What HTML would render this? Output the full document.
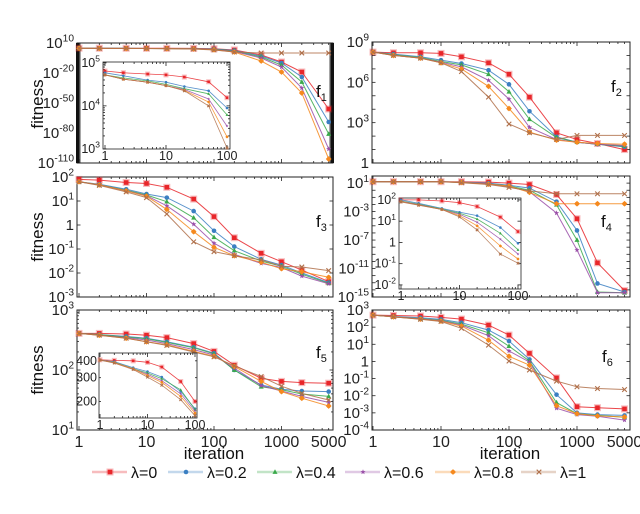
<!DOCTYPE html>
<html><head><meta charset="utf-8"><style>
body{margin:0;background:#fff;}
svg{display:block;font-family:"Liberation Sans",sans-serif;}
</style></head><body>
<svg id="chart" width="640" height="514" viewBox="0 0 640 514" xmlns="http://www.w3.org/2000/svg"></svg>
<script>
// iteration values (x)
const iterations = [1,2,5,10,20,50,100,200,500,1000,2000,5000];
const insetIterations = [1,2,5,10,20,50,100];
const lambdaLabels = ['λ=0','λ=0.2','λ=0.4','λ=0.6','λ=0.8','λ=1'];
// log10(fitness) series per panel, per lambda
const f1L0 = [4.81,4.77,4.74,4.72,4.67,4.56,4.19,3,-2,-9,-19,-56];
const f1L2 = [4.77,4.7,4.6,4.55,4.45,4.35,3.95,2.5,-3,-10,-24,-69];
const f1L4 = [4.72,4.65,4.58,4.5,4.4,4.28,3.79,2,-4,-12,-29,-81];
const f1L6 = [4.72,4.62,4.55,4.47,4.38,4.16,3.53,1.5,-5,-14,-35,-96];
const f1L8 = [4.72,4.62,4.55,4.47,4.36,4.09,3.28,1,-8,-19,-40,-106];
const f1L10 = [4.72,4.62,4.55,4.47,4.35,4.0,3.02,1,0,0,0,0];
const f2L0 = [8.25,8.2,8.2,8.15,7.9,7.45,6.6,4.9,2.25,1.75,1.45,1.0];
const f2L2 = [8.25,8.1,7.9,7.65,7.4,6.9,5.85,3.85,1.95,1.55,1.4,1.2];
const f2L4 = [8.25,8.05,7.85,7.55,7.3,6.6,5.3,3.25,1.9,1.55,1.4,1.25];
const f2L6 = [8.25,8.0,7.8,7.5,7.15,6.15,4.75,2.65,1.75,1.55,1.4,1.3];
const f2L8 = [8.25,8.0,7.8,7.45,7.0,5.7,4.05,2.3,1.7,1.55,1.45,1.4];
const f2L10 = [8.25,8.0,7.8,7.45,6.8,4.9,2.9,2.25,1.75,2.05,2.05,2.05];
const f3L0 = [1.9,1.87,1.77,1.73,1.57,1.08,0.35,-0.53,-1.18,-1.53,-1.88,-2.36];
const f3L2 = [1.8,1.7,1.49,1.29,1.14,0.58,-0.24,-0.9,-1.43,-1.67,-2.0,-2.4];
const f3L4 = [1.8,1.68,1.45,1.25,0.97,0.3,-0.51,-1.07,-1.5,-1.72,-2.05,-2.43];
const f3L6 = [1.8,1.67,1.43,1.22,0.8,0.03,-0.76,-1.22,-1.6,-1.77,-2.13,-2.45];
const f3L8 = [1.8,1.67,1.42,1.2,0.65,-0.28,-0.93,-1.28,-1.55,-1.82,-1.95,-2.18];
const f3L10 = [1.8,1.65,1.38,1.14,0.46,-0.7,-1.11,-1.28,-1.45,-1.72,-1.75,-1.9];
const f4L0 = [1.2,1.2,1.2,1.2,1.2,1.15,1.0,0.8,-0.6,-4.0,-10.2,-14.1];
const f4L2 = [1.2,1.2,1.2,1.2,1.15,1.0,0.7,0.3,-1.6,-5.65,-13.1,-14.3];
const f4L4 = [1.2,1.2,1.2,1.2,1.1,0.9,0.6,0.0,-2.05,-7.0,-14.3,-14.4];
const f4L6 = [1.2,1.2,1.2,1.2,1.1,0.9,0.5,-0.2,-3.2,-8.4,-14.4,-14.4];
const f4L8 = [1.2,1.2,1.2,1.2,1.1,0.85,0.6,-0.3,-1.9,-1.9,-1.9,-1.9];
const f4L10 = [1.2,1.2,1.2,1.2,1.05,0.8,0.4,-0.1,-0.5,-0.5,-0.5,-0.5];
const f5L0 = [2.61,2.61,2.6,2.58,2.54,2.44,2.31,2.08,1.86,1.81,1.79,1.78];
const f5L2 = [2.61,2.59,2.56,2.53,2.47,2.38,2.28,2.0,1.75,1.68,1.65,1.64];
const f5L4 = [2.61,2.59,2.55,2.52,2.46,2.37,2.27,2.0,1.72,1.67,1.6,1.56];
const f5L6 = [2.61,2.58,2.54,2.5,2.44,2.34,2.25,2.03,1.74,1.65,1.56,1.46];
const f5L8 = [2.61,2.58,2.53,2.47,2.42,2.31,2.23,2.06,1.81,1.64,1.53,1.4];
const f5L10 = [2.61,2.58,2.53,2.47,2.41,2.3,2.22,2.07,1.89,1.73,1.61,1.5];
const f6L0 = [2.7,2.68,2.65,2.57,2.47,2.12,1.54,0.47,-0.96,-2.64,-2.7,-2.77];
const f6L2 = [2.7,2.62,2.55,2.45,2.26,1.83,1.19,0.12,-1.94,-3.0,-3.1,-3.15];
const f6L4 = [2.7,2.6,2.5,2.4,2.18,1.67,0.89,0.02,-2.4,-3.05,-3.15,-3.26];
const f6L6 = [2.7,2.6,2.48,2.37,2.12,1.5,0.61,-0.04,-2.73,-3.1,-3.2,-3.42];
const f6L8 = [2.7,2.6,2.47,2.35,2.06,1.24,0.3,-0.22,-2.58,-3.05,-3.18,-3.24];
const f6L10 = [2.7,2.6,2.46,2.33,1.93,0.95,0.02,-0.5,-1.15,-1.48,-1.58,-1.64];
// inset series (iterations 1..100)
const f4InL0 = [2.0,2.0,1.95,1.87,1.69,1.19,0.51];
const f4InL2 = [2.0,1.84,1.6,1.42,1.26,0.7,-0.04];
const f4InL4 = [1.95,1.8,1.57,1.37,1.1,0.43,-0.35];
const f4InL6 = [1.93,1.78,1.55,1.33,0.95,0.15,-0.55];
const f4InL8 = [1.92,1.76,1.55,1.26,0.78,-0.17,-0.78];
const f4InL10 = [1.9,1.75,1.55,1.2,0.59,-0.55,-0.98];
const f5InL0 = [407,403,400,390,360,281,200];
const f5InL2 = [405,395,356,333,303,237,177];
const f5InL4 = [405,390,350,325,295,244,174];
const f5InL6 = [405,388,348,318,285,228,170];
const f5InL8 = [405,388,349,311,277,218,164];
const f5InL10 = [405,385,345,303,264,206,157];

const colors = ['#e8262a','#3b7fc2','#3aa94a','#9a4fa8','#f5891e','#b0704a'];
const markers = ['square','circle','triangle','star','diamond','cross'];
const NS = 'http://www.w3.org/2000/svg';
const svg = document.getElementById('chart');
function mk(tag, attrs, parent){const e=document.createElementNS(NS,tag);for(const k in attrs)e.setAttribute(k,attrs[k]);(parent||svg).appendChild(e);return e;}

function marker(g, type, x, y, c, s){
  let e;
  if(type==='square'){mk('rect',{x:x-s-1.2,y:y-s-1.2,width:2*s+2.4,height:2*s+2.4,fill:c,opacity:0.3},g);e=mk('rect',{x:x-s,y:y-s,width:2*s,height:2*s,fill:c},g);}
  else if(type==='circle'){e=mk('circle',{cx:x,cy:y,r:s,fill:c},g);}
  else if(type==='triangle'){e=mk('polygon',{points:`${x},${y-s*1.2} ${x-s*1.1},${y+s*0.8} ${x+s*1.1},${y+s*0.8}`,fill:c},g);}
  else if(type==='star'){let p=[];for(let i=0;i<10;i++){const r=i%2?s*0.5:s*1.2;const a=-Math.PI/2+i*Math.PI/5;p.push((x+r*Math.cos(a)).toFixed(1)+','+(y+r*Math.sin(a)).toFixed(1));}e=mk('polygon',{points:p.join(' '),fill:c},g);}
  else if(type==='diamond'){e=mk('polygon',{points:`${x},${y-s*1.25} ${x+s*1.25},${y} ${x},${y+s*1.25} ${x-s*1.25},${y}`,fill:c},g);mk('circle',{cx:x,cy:y,r:s*0.95,fill:c},g);}
  else {e=mk('path',{d:`M${x-s},${y-s}L${x+s},${y+s}M${x-s},${y+s}L${x+s},${y-s}`,stroke:c,'stroke-width':1.1,fill:'none'},g);}
  return e;
}

function tickLabel(g, exp, x, y, fs, anchor){
  const t=mk('text',{x:x,y:y,'font-size':fs,'text-anchor':anchor||'end',fill:'#222'},g);
  if(exp===0){t.textContent='1';}
  else{t.appendChild(document.createTextNode('10'));const s=mk('tspan',{'font-size':fs*0.68,dy:-fs*0.42},t);s.textContent=String(exp);}
  return t;
}

function panel(name, p, series, xs, isInset){
  const g=mk('g',{});
  
  
  const X=v=>p.xo+Math.log10(v)*p.xd;
  const Y=l=>p.y0+(p.ytop-l)*p.yd;
  mk('rect',{x:p.x0,y:p.y0,width:p.x1-p.x0,height:p.y1-p.y0,fill:'#fff',stroke:'#222','stroke-width':isInset?0.8:1},g);
  for(let d=0;d<=4;d++){for(let m=1;m<=9;m++){const v=m*Math.pow(10,d);const x=X(v);if(x>p.x1-0.5||x<p.x0)continue;const L=m===1?4:2;
    mk('line',{x1:x,x2:x,y1:p.y1,y2:p.y1-L,stroke:'#222','stroke-width':0.8},g);
    mk('line',{x1:x,x2:x,y1:p.y0,y2:p.y0+L,stroke:'#222','stroke-width':0.8},g);}}
  const lo=Math.ceil(p.ybot-1e-6), hi=Math.floor(p.ytop+1e-6);
  const dense=(hi-lo)<=3;
  for(let d=lo-1;d<=hi;d++){for(let m=1;m<=9;m++){if(m>1&&!dense)continue;const l=d+Math.log10(m);if(l<p.ybot-1e-6||l>p.ytop+1e-6)continue;const y=Y(l);const L=m===1?3.5:2;
    mk('line',{x1:p.x0,x2:p.x0+L,y1:y,y2:y,stroke:'#222','stroke-width':0.8},g);
    mk('line',{x1:p.x1,x2:p.x1-L,y1:y,y2:y,stroke:'#222','stroke-width':0.8},g);}}
  if(p.thick){mk('rect',{x:p.x0-1,y:p.y0,width:3,height:p.y1-p.y0,fill:'#111'},g);mk('rect',{x:p.x1-2,y:p.y0,width:3,height:p.y1-p.y0,fill:'#111'},g);}
  const fs=isInset?12.5:15;
  if(p.linLabels){p.linLabels.forEach(v=>{const t=mk('text',{x:p.x0-2,y:Y(Math.log10(v))+4,'font-size':fs,'text-anchor':'end',fill:'#222'},g);t.textContent=String(v);});}
  else p.yticks.forEach(e=>{const t=tickLabel(g,e,p.x0-3,Y(e)+(isInset?4:5),fs);});
  if(p.xlabels){p.xlabels.forEach(v=>{const t=mk('text',{x:X(v),y:p.y1+(isInset?11:17),'font-size':isInset?12.5:16,'text-anchor':'middle',fill:'#222'},g);t.textContent=String(v);});}
  series.forEach((s,i)=>{
    const pts=s.map((l,j)=>X(xs[j]).toFixed(1)+','+Y(l).toFixed(1)).join(' ');
    const pl=mk('polyline',{points:pts,fill:'none',stroke:colors[i],'stroke-width':isInset?0.8:1,opacity:0.85},g);
    
    
    s.forEach((l,j)=>{const m=marker(g,markers[i],X(xs[j]),Y(l),colors[i],isInset?1.3:2.3);
      
      });
  });
  if(p.label){const t=mk('text',{x:p.label[0],y:p.label[1],'font-size':17,fill:'#111'},g);t.appendChild(document.createTextNode('f'));const s=mk('tspan',{'font-size':11,dy:4},t);s.textContent=p.label[2];
    }
  return g;
}
const logs=a=>a.map(v=>Math.log10(v));
const L={xo:79,xd:67.5,x0:77,x1:333}, R={xo:373,xd:68,x0:372,x1:630};
panel('panel-f1',Object.assign({},L,{y0:43,y1:163,ytop:10,ybot:-110,yd:1,yticks:[10,-20,-50,-80,-110],thick:true,label:[316,97,'1']}),[f1L0,f1L2,f1L4,f1L6,f1L8,f1L10],iterations);
panel('inset-f1',{xo:105,xd:61,x0:103,x1:230,y0:62,y1:149,ytop:5.02,ybot:3,yd:43,yticks:[5,4,3],xlabels:[1,10,100]},[f1L0,f1L2,f1L4,f1L6,f1L8,f1L10].map(a=>a.slice(0,7)),insetIterations,true);
panel('panel-f2',Object.assign({},R,{y0:42,y1:163,ytop:9,ybot:0,yd:121/9,yticks:[9,6,3,0],label:[611,92,'2']}),[f2L0,f2L2,f2L4,f2L6,f2L8,f2L10],iterations);
panel('panel-f3',Object.assign({},L,{y0:177,y1:297,ytop:2,ybot:-3,yd:24,yticks:[2,1,0,-1,-2,-3],label:[316,227,'3']}),[f3L0,f3L2,f3L4,f3L6,f3L8,f3L10],iterations);
panel('panel-f4',Object.assign({},R,{y0:176,y1:297,ytop:2,ybot:-15,yd:121/17,yticks:[1,-3,-7,-11,-15],label:[601,227,'4']}),[f4L0,f4L2,f4L4,f4L6,f4L8,f4L10],iterations);
panel('inset-f4',{xo:401,xd:58.5,x0:399,x1:521,y0:198,y1:289,ytop:2.09,ybot:-2.19,yd:21.25,yticks:[2,1,0,-1,-2],xlabels:[1,10,100]},[f4InL0,f4InL2,f4InL4,f4InL6,f4InL8,f4InL10],insetIterations,true);
panel('panel-f5',Object.assign({},L,{y0:310,y1:430,ytop:3,ybot:1,yd:60,yticks:[3,2,1],xlabels:[1,10,100,1000,5000],label:[316,358,'5']}),[f5L0,f5L2,f5L4,f5L6,f5L8,f5L10],iterations);
panel('inset-f5',{xo:100,xd:47.5,x0:99,x1:197,y0:353,y1:418,ytop:2.66,ybot:2.18,yd:135,linLabels:[400,300,200],xlabels:[1,10,100]},[f5InL0,f5InL2,f5InL4,f5InL6,f5InL8,f5InL10].map(logs),insetIterations,true);
panel('panel-f6',Object.assign({},R,{y0:310,y1:430,ytop:3,ybot:-4,yd:120/7,yticks:[3,2,1,0,-1,-2,-3,-4],xlabels:[1,10,100,1000,5000],label:[602,362,'6']}),[f6L0,f6L2,f6L4,f6L6,f6L8,f6L10],iterations);

[104,237,370].forEach((cy,i)=>{const t=mk('text',{x:0,y:0,transform:`translate(43,${cy}) rotate(-90)`,'font-size':17,'text-anchor':'middle',fill:'#111'});t.textContent='fitness';
  });
[214,510].forEach(cx=>{const t=mk('text',{x:cx,y:459,'font-size':17,'text-anchor':'middle',fill:'#111'});t.textContent='iteration';
  });
const legendX=[110,186,275,363,453,539];
lambdaLabels.forEach((lab,i)=>{
  const g=mk('g',{});
  
  
  const x=legendX[i];
  mk('line',{x1:x-18,x2:x+17,y1:472,y2:472,stroke:colors[i],'stroke-width':2.5,opacity:0.3},g);
  marker(g,markers[i],x,472,colors[i],2.3);
  const t=mk('text',{x:x+21,y:478,'font-size':16,fill:'#111'},g);t.textContent=lab;
});
</script>
</body></html>
